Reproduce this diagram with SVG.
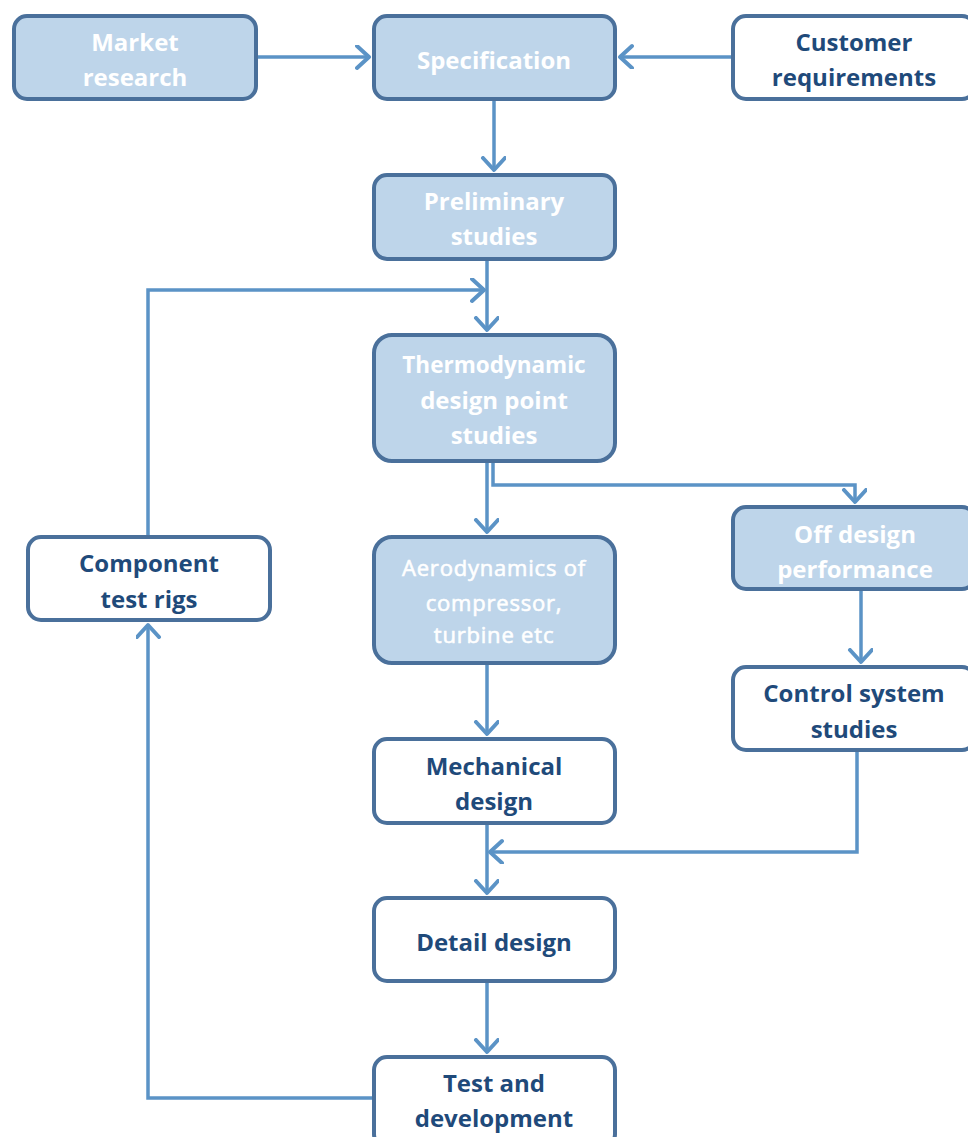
<svg xmlns="http://www.w3.org/2000/svg" width="968" height="1137" viewBox="0 0 968 1137">
<style>
.box{stroke:#4a709b;stroke-width:4}
.fill{fill:#bed5ea}
.plain{fill:#ffffff}
.t{font-family:"Open Sans","Noto Sans",sans-serif;font-weight:bold;font-size:24px;text-anchor:middle}
.tw{fill:#ffffff}
.td{fill:#1f4a7a}
.mid{font-size:22.5px}
.small{font-size:22px;font-weight:normal;letter-spacing:0.8px;stroke:#ffffff;stroke-width:0.6px}
.c{fill:none;stroke:#5b93c6;stroke-width:3.5}
</style>
<defs>
<marker id="ah" markerUnits="userSpaceOnUse" markerWidth="30" markerHeight="30" refX="14" refY="12" orient="auto" viewBox="0 0 30 30">
<path d="M2,1 L14,12 L2,23" fill="none" stroke="#5b93c6" stroke-width="4" stroke-linecap="round" stroke-linejoin="round"/>
</marker>
</defs>
<g id="connectors">
<path class="c" d="M258,57 L369,57" marker-end="url(#ah)"/>
<path class="c" d="M731,57 L620,57" marker-end="url(#ah)"/>
<path class="c" d="M494,101 L494,170" marker-end="url(#ah)"/>
<path class="c" d="M487,261 L487,330" marker-end="url(#ah)"/>
<path class="c" d="M148,535 L148,290 L484,290" marker-end="url(#ah)"/>
<path class="c" d="M487,463 L487,532" marker-end="url(#ah)"/>
<path class="c" d="M493,463 L493,485 L855,485 L855,502" marker-end="url(#ah)"/>
<path class="c" d="M487,665 L487,734" marker-end="url(#ah)"/>
<path class="c" d="M861,591 L861,662" marker-end="url(#ah)"/>
<path class="c" d="M857,752 L857,852 L490,852" marker-end="url(#ah)"/>
<path class="c" d="M487,825 L487,893" marker-end="url(#ah)"/>
<path class="c" d="M487,983 L487,1052" marker-end="url(#ah)"/>
<path class="c" d="M372,1098 L148,1098 L148,625" marker-end="url(#ah)"/>
</g>
<g id="market">
<rect class="box fill" x="14" y="16" width="242" height="83" rx="13"/>
<text class="t tw" x="135" y="51">Market</text>
<text class="t tw" x="135" y="86">research</text>
</g>
<g id="specification">
<rect class="box fill" x="374" y="16" width="241" height="83" rx="13"/>
<text class="t tw" x="494" y="69">Specification</text>
</g>
<g id="customer">
<rect class="box plain" x="733" y="16" width="242" height="83" rx="13"/>
<text class="t td" x="854" y="51">Customer</text>
<text class="t td" x="854" y="86">requirements</text>
</g>
<g id="preliminary">
<rect class="box fill" x="374" y="175" width="241" height="84" rx="13"/>
<text class="t tw" x="494" y="210">Preliminary</text>
<text class="t tw" x="494" y="245">studies</text>
</g>
<g id="thermo">
<rect class="box fill" x="374" y="335" width="241" height="126" rx="18"/>
<text class="t tw mid" x="494" y="373">Thermodynamic</text>
<text class="t tw" x="494" y="409">design point</text>
<text class="t tw" x="494" y="444">studies</text>
</g>
<g id="aero">
<rect class="box fill" x="374" y="537" width="241" height="126" rx="18"/>
<text class="t tw small" x="494" y="576">Aerodynamics of</text>
<text class="t tw small" x="494" y="611">compressor,</text>
<text class="t tw small" x="494" y="643">turbine etc</text>
</g>
<g id="offdesign">
<rect class="box fill" x="733" y="507" width="242" height="82" rx="13"/>
<text class="t tw" x="855" y="543">Off design</text>
<text class="t tw" x="855" y="578">performance</text>
</g>
<g id="control">
<rect class="box plain" x="733" y="667" width="242" height="83" rx="13"/>
<text class="t td" x="854" y="702">Control system</text>
<text class="t td" x="854" y="738">studies</text>
</g>
<g id="component">
<rect class="box plain" x="28" y="537" width="242" height="83" rx="13"/>
<text class="t td" x="149" y="572">Component</text>
<text class="t td" x="149" y="608">test rigs</text>
</g>
<g id="mechanical">
<rect class="box plain" x="374" y="739" width="241" height="84" rx="13"/>
<text class="t td" x="494" y="775">Mechanical</text>
<text class="t td" x="494" y="810">design</text>
</g>
<g id="detail">
<rect class="box plain" x="374" y="898" width="241" height="83" rx="13"/>
<text class="t td" x="494" y="951">Detail design</text>
</g>
<g id="test">
<rect class="box plain" x="374" y="1057" width="241" height="90" rx="13"/>
<text class="t td" x="494" y="1092">Test and</text>
<text class="t td" x="494" y="1127">development</text>
</g>
</svg>
